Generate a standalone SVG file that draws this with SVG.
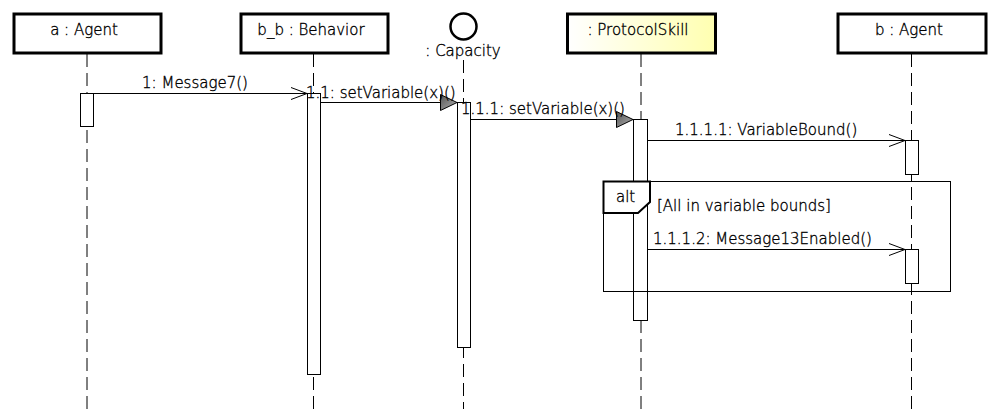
<svg xmlns="http://www.w3.org/2000/svg" width="998" height="409" viewBox="0 0 998 409">
<defs>
<linearGradient id="skill" x1="0" y1="0" x2="1" y2="0">
<stop offset="0" stop-color="#ffffff"/>
<stop offset="1" stop-color="#ffffb0"/>
</linearGradient>
<linearGradient id="tri" x1="0" y1="0" x2="1" y2="1">
<stop offset="0" stop-color="#555555"/>
<stop offset="1" stop-color="#b0b0b0"/>
</linearGradient>
<marker id="open" markerWidth="20" markerHeight="14" refX="17" refY="7" orient="auto" markerUnits="userSpaceOnUse">
<path d="M1,1 L17,7 L1,13" fill="none" stroke="#000" stroke-width="1"/>
</marker>
<marker id="filled" markerWidth="20" markerHeight="18" refX="17" refY="8.5" orient="auto" markerUnits="userSpaceOnUse">
<path d="M0.5,0.5 L17,8.5 L0.5,16.5 Z" fill="url(#tri)" stroke="#000" stroke-width="1"/>
</marker>
</defs>
<style>
text{font-family:"DejaVu Sans",sans-serif;font-weight:200;font-size:15px;fill:#000;stroke:#000;stroke-width:0.35}
.box{fill:#fff;stroke:#000;stroke-width:3}
.life{stroke:#000;stroke-width:1;stroke-dasharray:13 6;fill:none}
.act{fill:#fff;stroke:#000;stroke-width:1}
.msg{stroke:#000;stroke-width:1;fill:none}
.frame{fill:none;stroke:#000;stroke-width:1}
</style>
<g id="lifelines">
<line class="life" x1="87" y1="54" x2="87" y2="409"/>
<line class="life" x1="313.5" y1="54" x2="313.5" y2="409"/>
<line class="life" x1="463.5" y1="60" x2="463.5" y2="409"/>
<line class="life" x1="641" y1="54" x2="641" y2="409"/>
<line class="life" x1="911.5" y1="54" x2="911.5" y2="409"/>
</g>
<g id="node-a">
<rect class="box" x="14" y="14" width="147" height="39"/>
<text x="84" y="35" text-anchor="middle">a : Agent</text>
</g>
<g id="node-bb">
<rect class="box" x="241" y="14" width="147" height="39"/>
<text x="311" y="35" text-anchor="middle">b_b : Behavior</text>
</g>
<g id="node-capacity">
<circle cx="463.5" cy="26.5" r="13" fill="#fff" stroke="#000" stroke-width="2.5"/>
<text x="463" y="56" text-anchor="middle">: Capacity</text>
</g>
<g id="node-skill">
<rect x="567.5" y="14" width="148" height="39" fill="url(#skill)" stroke="#000" stroke-width="3"/>
<text x="638" y="35" text-anchor="middle">: ProtocolSkill</text>
</g>
<g id="node-b">
<rect class="box" x="838" y="14" width="148" height="39"/>
<text x="909" y="35" text-anchor="middle">b : Agent</text>
</g>
<g id="activations">
<rect class="act" x="80.5" y="93.5" width="13" height="33"/>
<rect class="act" x="307.5" y="93.5" width="13" height="281"/>
<rect class="act" x="457.5" y="102.5" width="13" height="245"/>
<rect class="act" x="633.5" y="119.5" width="14" height="201"/>
<rect class="act" x="905.5" y="140.5" width="13" height="34"/>
<rect class="act" x="905.5" y="249.5" width="13" height="34"/>
</g>
<g id="frame-alt">
<rect class="frame" x="603.5" y="181.5" width="347" height="110"/>
<path d="M603.5,181.5 L650,181.5 L650,202 L638,213 L603.5,213 Z" fill="#fff" stroke="#000" stroke-width="2"/>
<text x="616" y="202">alt</text>
<text x="657" y="211">[All in variable bounds]</text>
</g>
<g id="connectors">
<line class="msg" x1="93.5" y1="93.5" x2="307" y2="93.5" marker-end="url(#open)"/>
<text x="195" y="88" text-anchor="middle">1: Message7()</text>
<line class="msg" x1="320.5" y1="102.5" x2="457" y2="102.5" marker-end="url(#filled)"/>
<text x="306" y="98">1.1: setVariable(x)()</text>
<line class="msg" x1="470.5" y1="119.5" x2="633" y2="119.5" marker-end="url(#filled)"/>
<text x="461" y="114">1.1.1: setVariable(x)()</text>
<line class="msg" x1="647.5" y1="140.5" x2="905" y2="140.5" marker-end="url(#open)"/>
<text x="675" y="135">1.1.1.1: VariableBound()</text>
<line class="msg" x1="647.5" y1="249.5" x2="905" y2="249.5" marker-end="url(#open)"/>
<text x="653" y="244">1.1.1.2: Message13Enabled()</text>
</g>
</svg>
